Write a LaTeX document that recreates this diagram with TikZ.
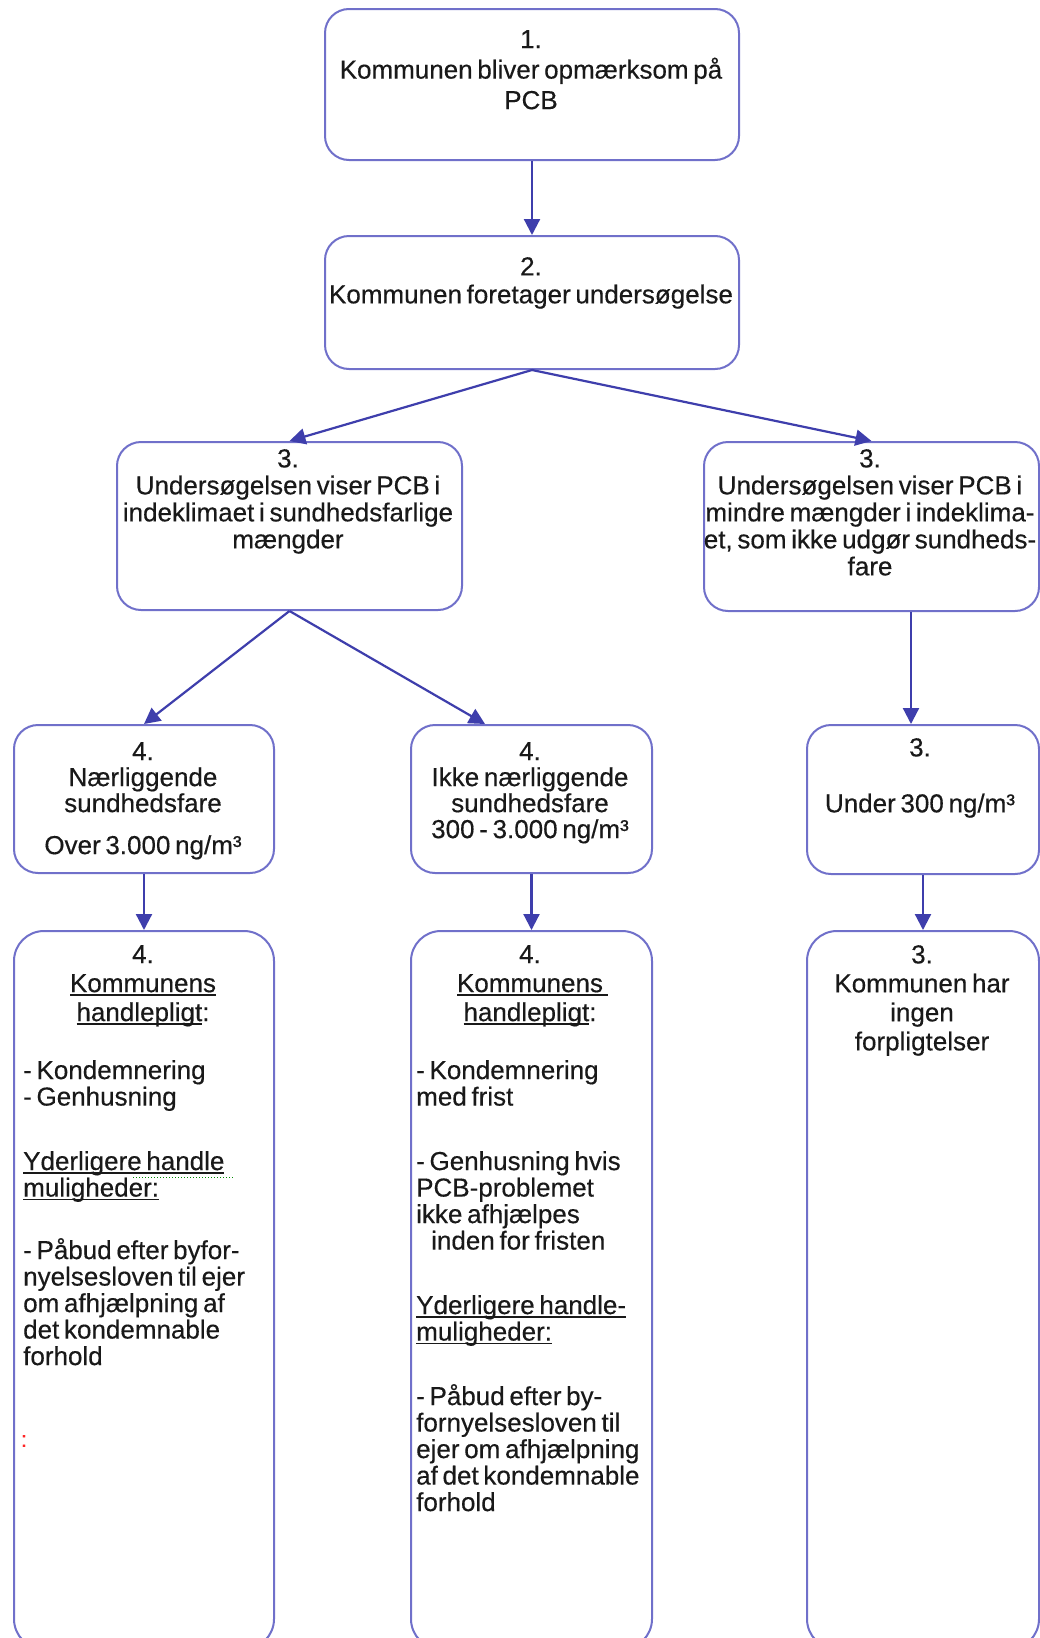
\documentclass[tikz,border=0pt]{standalone}
\usepackage{fontspec}
\setmainfont{Liberation Sans}[WordSpace=0.65, FakeBold=0.35]
\usetikzlibrary{arrows.meta}
\definecolor{boxc}{RGB}{112,112,202}
\definecolor{arrc}{RGB}{62,62,172}
\definecolor{txt}{RGB}{25,25,25}
\newlength\myulw
\newcommand{\myul}[1]{\settowidth{\myulw}{#1}\rlap{\rule[-3.5pt]{\myulw}{1.4pt}}#1}
\begin{document}
\begin{tikzpicture}[x=1pt,y=-1pt,
  box/.style={draw=boxc, line width=2pt, rounded corners=24pt, inner sep=0pt, anchor=north west},
  arr/.style={draw=arrc, line width=2.2pt, -{Triangle[length=16pt,width=16pt]}},
  txtc/.style={inner sep=0pt, anchor=north, align=center, font=\fontsize{26}{29}\selectfont, text=txt},
  txtl/.style={inner sep=0pt, anchor=north west, align=left, font=\fontsize{26}{26.5}\selectfont, text=txt},
]
\useasboundingbox (0,0) rectangle (1040,1638);
\fill[white] (0,0) rectangle (1040,1638);
\clip (0,0) rectangle (1040,1638);

% boxes
\node[box, minimum width=414pt, minimum height=151pt] (b1) at (324,8) {};
\node[box, minimum width=414pt, minimum height=133pt] (b2) at (324,235) {};
\node[box, minimum width=345pt, minimum height=168pt] (b3L) at (116,441) {};
\node[box, minimum width=335pt, minimum height=169pt] (b3R) at (703,441) {};
\node[box, minimum width=260pt, minimum height=148pt] (b4a) at (13,724) {};
\node[box, minimum width=241pt, minimum height=148pt] (b4b) at (410,724) {};
\node[box, minimum width=232pt, minimum height=149pt] (b3R2) at (806,724) {};
\node[box, rounded corners=30pt, minimum width=260pt, minimum height=718pt] (b5a) at (13,930) {};
\node[box, rounded corners=30pt, minimum width=241pt, minimum height=718pt] (b5b) at (410,930) {};
\node[box, rounded corners=30pt, minimum width=232pt, minimum height=718pt] (b5c) at (806,930) {};

% connectors
\coordinate (p4b) at (485,724);
\coordinate (x3R) at (911,0);
\draw[arr] (b1.south) -- (b2.north);
\draw[arr] (b2.south) -- (b3L.north);
\draw[arr] (b2.south) -- (b3R.north);
\draw[arr] (b3L.south) -- (b4a.north);
\draw[arr] (b3L.south) -- (p4b);
\draw[arr] (b3R.south -| x3R) -- (b3R2.north -| x3R);
\draw[arr] (b4a.south) -- (b5a.north);
\draw[arr] (b4b.south) -- (b5b.north);
\draw[arr] (b3R2.south) -- (b5c.north);

% texts
\node[txtc, font=\fontsize{26}{30.5}\selectfont] (t1) at (531,30) {1.\\Kommunen bliver opmærksom på\\PCB};
\node[txtc, font=\fontsize{26}{28}\selectfont] (t2) at (531,257) {2.\\Kommunen foretager undersøgelse};
\node[txtc, font=\fontsize{26}{27}\selectfont] (t3L) at (288,449) {3.\\Undersøgelsen viser PCB i\\indeklimaet i sundhedsfarlige\\mængder};
\node[txtc, font=\fontsize{26}{27}\selectfont] (t3R) at (870,449) {3.\\Undersøgelsen viser PCB i\\mindre mængder i indeklima-\\et, som ikke udgør sundheds-\\fare};
\node[txtc, font=\fontsize{26}{26}\selectfont] (t4a) at (143,742) {4.\\Nærliggende\\sundhedsfare\\[16pt]Over 3.000 ng/m³};
\node[txtc, font=\fontsize{26}{26}\selectfont] (t4b) at (530,742) {4.\\Ikke nærliggende\\sundhedsfare\\300 - 3.000 ng/m³};
\node[txtc, font=\fontsize{26}{26}\selectfont] (t3R2) at (920,738) {3.\\[30pt]Under 300 ng/m³};

\node[txtc] (h5a) at (143,945) {4.\\\myul{Kommunens}\\\myul{handlepligt}:};
\node[txtc] (h5b) at (530,945) {4.\\\myul{Kommunens\ }\\\myul{handlepligt}:};
\node[txtc] (h5c) at (922,945) {3.\\Kommunen har\\ingen\\forpligtelser};

\node[txtl] (l5a) at (23,1060) {- Kondemnering\\
- Genhusning\\[38pt]
\myul{Yderligere handle}\\
\myul{muligheder:}\\[36pt]
- Påbud efter byfor-\\
nyelsesloven til ejer\\
om afhjælpning af\\
det kondemnable\\
forhold};
\draw[green!55!black, line width=1pt, dotted] (l5a.west |- 0,1177) ++(110,0) -- ++(100,0);
\node[inner sep=0pt, text=red!85!white, font=\fontsize{22}{22}\selectfont] (rc) at (24,1441) {:};

\node[txtl] (l5b) at (416,1060) {- Kondemnering\\
med frist\\[38pt]
- Genhusning hvis\\
PCB-problemet\\
ikke afhjælpes\\
\hspace*{15pt}inden for fristen\\[38pt]
\myul{Yderligere handle-}\\
\myul{muligheder:}\\[38pt]
- Påbud efter by-\\
fornyelsesloven til\\
ejer om afhjælpning\\
af det kondemnable\\
forhold};
\end{tikzpicture}
\end{document}
